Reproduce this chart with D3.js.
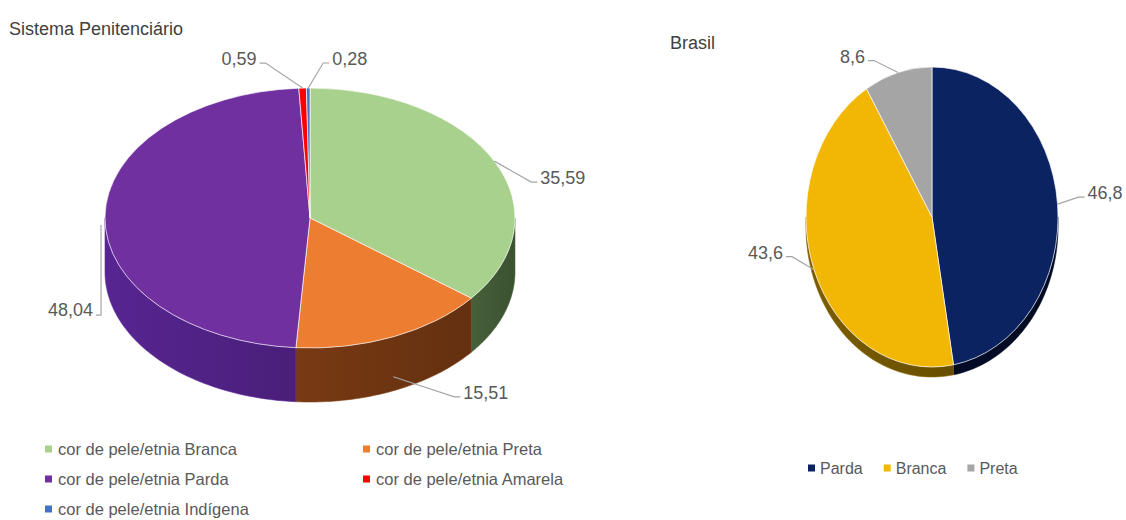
<!DOCTYPE html>
<html>
<head>
<meta charset="utf-8">
<script src="https://cdn.jsdelivr.net/npm/d3@7"></script>
<style>
    body { margin: 0; background: #fff; }
    svg text { font-family: "Liberation Sans", Arial, sans-serif; }
</style>
</head>
<body>
<svg id="chart" width="1126" height="520"></svg>
<script>

//
// ***********************************************************************************
//                      DATA
// ***********************************************************************************
//

const prisonCategories = ["cor de pele/etnia Branca", "cor de pele/etnia Preta", "cor de pele/etnia Parda",
                          "cor de pele/etnia Amarela", "cor de pele/etnia Indígena"];
const prisonValues = [35.59, 15.51, 48.04, 0.59, 0.28];

const brasilCategories = ["Parda", "Branca", "Preta"];
const brasilValues = [46.8, 43.6, 8.6];

// Colours (top face, side wall).
const prisonColors = ["#A9D18E", "#ED7D31", "#7030A0", "#FF0000", "#4472C4"];
const prisonWalls  = ["#3E5533", "#6A3311", "#4D2180", "#9A0000", "#2A4A85"];
const brasilColors = ["#0B2361", "#F2B705", "#A5A5A5"];
const brasilWalls  = ["#020A22", "#6E5200", "#5A5A5A"];

// Portuguese number format (decimal comma).
const ptBR = d3.formatLocale({ decimal: ",", thousands: ".", grouping: [3], currency: ["R$", ""] });

//
// ***********************************************************************************
//                      HELPERS
// ***********************************************************************************
//

const svg = d3.select("#chart");
const defs = svg.append("defs");

function drawPie(cfg) {

    const g = svg.append("g");
    const pie = d3.pie().sort(null).value(d => d)(cfg.values);

    // Point on the ellipse rim, angle clockwise from 12 o'clock.
    const pt = (a, dy = 0) => [cfg.cx + cfg.rx * Math.sin(a), cfg.cy - cfg.ry * Math.cos(a) + dy];

    // Side walls (front half only).
    pie.forEach((p, i) => {
        const s = Math.max(p.startAngle, Math.PI / 2);
        const e = Math.min(p.endAngle, 3 * Math.PI / 2);
        if (e <= s) return;
        const angles = d3.range(0, 61).map(k => s + (e - s) * k / 60);
        const top = angles.map(a => pt(a));
        const bottom = angles.slice().reverse().map(a => pt(a, cfg.depth));

        const gid = `${cfg.id}-wall-${i}`;
        const wall = d3.color(cfg.walls[i]);
        const grad = defs.append("linearGradient")
            .attr("id", gid)
            .attr("gradientUnits", "userSpaceOnUse")
            .attr("x1", Math.min(top[0][0], top[60][0])).attr("x2", Math.max(top[0][0], top[60][0]))
            .attr("y1", 0).attr("y2", 0);
        grad.append("stop").attr("offset", 0).attr("stop-color", wall.brighter(0.35));
        grad.append("stop").attr("offset", 1).attr("stop-color", wall.darker(0.15));

        g.append("path")
            .attr("d", d3.line()(top.concat(bottom)) + "Z")
            .attr("fill", `url(#${gid})`)
            .attr("stroke", wall.brighter(0.6))
            .attr("stroke-width", 0.6);
    });

    // Top faces.
    const arc = d3.arc().innerRadius(0).outerRadius(cfg.rx);
    g.append("g")
        .attr("transform", `translate(${cfg.cx},${cfg.cy}) scale(1,${cfg.ry / cfg.rx})`)
        .selectAll("path")
        .data(pie)
        .join("path")
        .attr("d", arc)
        .attr("fill", (d, i) => cfg.colors[i])
        .attr("stroke", "rgba(255,255,255,0.65)")
        .attr("stroke-width", 1)
        .attr("vector-effect", "non-scaling-stroke");

    // Data labels with leader lines.
    const fmt = ptBR.format(cfg.fmt);
    pie.forEach((p, i) => {
        const L = cfg.labels[i];
        const mid = (p.startAngle + p.endAngle) / 2;
        const a = pt(mid, L.wall || 0);
        const tx = a[0] + L.dx, ty = a[1] + L.dy;
        const side = L.anchor === "end" ? 1 : -1;
        const pts = L.path === "vertical"
            ? [[a[0] - 4, a[1] + 8], [a[0] - 4, ty + 5], [tx + 3, ty + 5]]
            : [a, [tx + side * 9, ty + 4], [tx + side * 3, ty + 4]];
        g.append("path")
            .attr("d", d3.line()(pts))
            .attr("fill", "none")
            .attr("stroke", "#A6A6A6")
            .attr("stroke-width", 1.2);
        g.append("text")
            .attr("x", tx).attr("y", ty)
            .attr("dy", "0.35em")
            .attr("text-anchor", L.anchor)
            .attr("font-size", 18)
            .attr("fill", "#595959")
            .text(fmt(cfg.values[i]));
    });

    // Title.
    svg.append("text")
        .attr("x", cfg.title.x).attr("y", cfg.title.y)
        .attr("font-size", 18)
        .attr("fill", "#404040")
        .text(cfg.title.text);
}

//
// ***********************************************************************************
//                      CHARTS
// ***********************************************************************************
//

drawPie({
    id: "prison",
    values: prisonValues, colors: prisonColors, walls: prisonWalls,
    cx: 310, cy: 218, rx: 205, ry: 130, depth: 54, fmt: ".2f",
    title: { text: "Sistema Penitenciário", x: 9, y: 35 },
    labels: [
        { dx: 46, dy: 17, anchor: "start" },
        { dx: 70, dy: 16, anchor: "start", wall: 40 },
        { dx: -12, dy: 93, anchor: "end", path: "vertical" },
        { dx: -46, dy: -29, anchor: "end" },
        { dx: 24, dy: -29, anchor: "start" }
    ]
});

drawPie({
    id: "brasil",
    values: brasilValues, colors: brasilColors, walls: brasilWalls,
    cx: 932, cy: 217, rx: 126, ry: 150, depth: 10, fmt: ".1f",
    title: { text: "Brasil", x: 670, y: 49 },
    labels: [
        { dx: 30, dy: -11, anchor: "start" },
        { dx: -31, dy: -17, anchor: "end" },
        { dx: -33, dy: -16, anchor: "end" }
    ]
});

// Legend: Sistema Penitenciário (two columns).
const legendLeft = svg.append("g");
prisonCategories.forEach((c, i) => {
    const x = [45, 363][i % 2];
    const y = 449 + Math.floor(i / 2) * 30;
    legendLeft.append("rect")
        .attr("x", x).attr("y", y - 3.5).attr("width", 7).attr("height", 7)
        .attr("fill", prisonColors[i]);
    legendLeft.append("text")
        .attr("x", x + 13).attr("y", y).attr("dy", "0.35em")
        .attr("font-size", 16.5).attr("fill", "#595959")
        .text(c);
});

// Legend: Brasil (one row).
const legendRight = svg.append("g");
let lx = 808;
brasilCategories.forEach((c, i) => {
    legendRight.append("rect")
        .attr("x", lx).attr("y", 468 - 3.5).attr("width", 7).attr("height", 7)
        .attr("fill", brasilColors[i]);
    const t = legendRight.append("text")
        .attr("x", lx + 12).attr("y", 468).attr("dy", "0.35em")
        .attr("font-size", 16).attr("fill", "#595959")
        .text(c);
    lx += 12 + t.node().getComputedTextLength() + 21;
});

</script>
</body>
</html>
